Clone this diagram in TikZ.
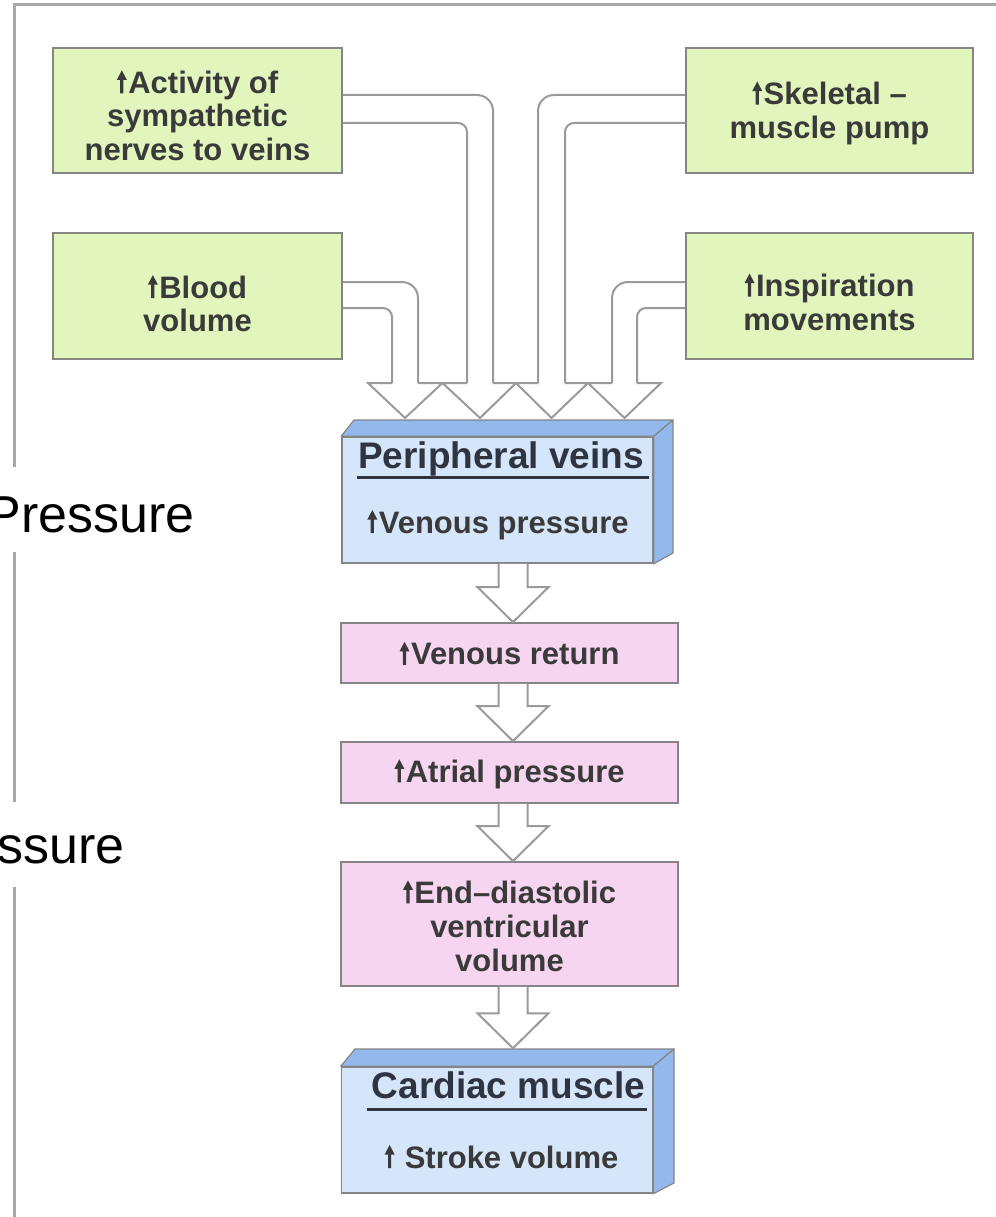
\documentclass[tikz,border=0pt]{standalone}
\usepackage{fontspec}
\setmainfont{Liberation Sans}
\usetikzlibrary{calc}
\definecolor{greenfill}{HTML}{E1F5BC}
\definecolor{pinkfill}{HTML}{F6D5F1}
\definecolor{bluefront}{HTML}{D5E5FA}
\definecolor{blueside}{HTML}{93B8EC}
\definecolor{boxline}{HTML}{858585}
\definecolor{pipecol}{HTML}{9A9A9A}
\definecolor{framecol}{HTML}{A8A8A8}
\definecolor{txt}{HTML}{3A3A3A}
\definecolor{titletxt}{HTML}{2F3540}
\newcommand{\upar}{\tikz[baseline=0pt,x=1pt,y=1pt]\fill[txt] (-1.6,0) -- (-1.6,13.5) -- (-5,13.5) -- (0,23) -- (5,13.5) -- (1.6,13.5) -- (1.6,0) -- cycle;\hspace{1.5pt}}
\newcommand{\blockarrow}[2]{%
  \draw[pipe,fill=white] ($(#1)+(-14.5,0)$) -- ($(#2)+(-14.5,-35)$) -- ($(#2)+(-35.5,-35)$) -- (#2)
    -- ($(#2)+(35.5,-35)$) -- ($(#2)+(14.5,-35)$) -- ($(#1)+(14.5,0)$);}
\begin{document}
\begin{tikzpicture}[x=1pt,y=-1pt,
  gbox/.style={draw=boxline,line width=2pt,fill=greenfill,minimum width=289pt,inner sep=0pt},
  pbox/.style={draw=boxline,line width=1.8pt,fill=pinkfill,minimum width=337pt,inner sep=0pt},
  bfront/.style={draw=boxline,line width=1.5pt,fill=bluefront,minimum width=311pt,minimum height=126pt,inner sep=0pt},
  bside/.style={draw=boxline,line width=1.2pt,fill=blueside,line join=round},
  btext/.style={inner sep=0pt,align=center,text=txt,font=\bfseries\fontsize{31}{33.5}\selectfont},
  ttext/.style={inner sep=0pt,anchor=base,text=titletxt,font=\bfseries\fontsize{37}{40}\selectfont},
  uline/.style={draw=titletxt,line width=3pt},
  pipe/.style={draw=pipecol,line width=2pt},
  frame/.style={draw=framecol,line width=3pt},
  side/.style={inner sep=0pt,anchor=base east,text=black,font=\fontsize{52}{60}\selectfont}
]
\useasboundingbox (0,0) rectangle (995,1217);
\fill[white] (0,0) rectangle (995,1217);

% frame
\draw[frame] (14,467) -- (14,5) -- (996,5);
\draw[frame] (14,552) -- (14,802);
\draw[frame] (14,887) -- (14,1218);
\node[side] (pr1) at (195,532) {Pressure};
\node[side] (pr2) at (125,863) {ssure};

% green boxes
\node[gbox,minimum height=125pt] (act) at (197.5,110.5) {};
\node[gbox,minimum height=126pt] (blood) at (197.5,296) {};
\node[gbox,minimum width=287pt,minimum height=125pt] (skel) at (829.5,110.5) {};
\node[gbox,minimum width=287pt,minimum height=126pt] (insp) at (829.5,296) {};
\node[btext] (actT) at (197.5,115.5) {\upar Activity of\\sympathetic\\nerves to veins};
\node[btext] (bloodT) at (197.5,303.5) {\upar Blood\\volume};
\node[btext] (skelT) at (829.5,113) {\upar Skeletal --\\muscle pump};
\node[btext] (inspT) at (829.5,302) {\upar Inspiration\\movements};

% pipes into peripheral veins
\draw[pipe,rounded corners=9pt] ([yshift=-12pt]blood.east) -| (392,383);
\draw[pipe,rounded corners=16pt] ([yshift=14pt]blood.east) -| (418,383);
\draw[pipe] (418,383) -- (442.5,383) -- (405,418) -- (368,383) -- (392,383);
\draw[pipe,rounded corners=9pt] ([yshift=-12.5pt]act.east) -| (467,383);
\draw[pipe,rounded corners=16pt] ([yshift=15.5pt]act.east) -| (493,383);
\draw[pipe] (493,383) -- (516,383) -- (480,418) -- (442.5,383) -- (467,383);
\draw[pipe,rounded corners=16pt] ([yshift=15.5pt]skel.west) -| (538,383);
\draw[pipe,rounded corners=9pt] ([yshift=-12.5pt]skel.west) -| (565,383);
\draw[pipe] (538,383) -- (516,383) -- (551.5,418) -- (588,383) -- (565,383);
\draw[pipe,rounded corners=16pt] ([yshift=14pt]insp.west) -| (612,383);
\draw[pipe,rounded corners=9pt] ([yshift=-12pt]insp.west) -| (637,383);
\draw[pipe] (612,383) -- (588,383) -- (624.5,418) -- (661,383) -- (637,383);

% peripheral veins block
\node[bfront] (pv) at (497.5,500) {};
\draw[bside] (pv.north west) -- (354,420) -- (673,420) -- (pv.north east) -- cycle;
\draw[bside] (pv.north east) -- (673,420) -- (673,553) -- (pv.south east) -- cycle;
\node[ttext] (pvT) at (501,468) {Peripheral veins};
\draw[uline] ($(pvT.base west)+(-1,9)$) -- ($(pvT.base east)+(5,9)$);
\node[btext,anchor=base] (pvS) at (498,533) {\upar Venous pressure};

% pink boxes
\node[pbox,minimum height=60pt] (vret) at (509.5,653) {};
\node[btext] (vretT) at (509.5,653.5) {\upar Venous return};
\node[pbox,minimum height=61pt] (atp) at (509.5,772.5) {};
\node[btext] (atpT) at (509.5,774) {\upar Atrial pressure};
\node[pbox,minimum height=124pt] (edv) at (509.5,924) {};
\node[btext,font=\bfseries\fontsize{31}{34}\selectfont] (edvT) at (509.5,926) {\upar End--diastolic\\ventricular\\volume};

% cardiac muscle block
\node[bfront] (cm) at (497,1130) {};
\draw[bside] (cm.north west) -- (355,1049) -- (674,1049) -- (cm.north east) -- cycle;
\draw[bside] (cm.north east) -- (674,1049) -- (674,1183) -- (cm.south east) -- cycle;
\node[ttext] (cmT) at (508.5,1098) {Cardiac muscle};
\draw[uline] ($(cmT.base west)+(-5,11)$) -- ($(cmT.base east)+(2,11)$);
\node[btext,anchor=base] (cmS) at (501.5,1168) {\upar\ Stroke volume};

% block arrows down the chain
\coordinate (ax) at (513,0);
\coordinate (s1) at (pv.south -| ax);
\coordinate (t1) at (vret.north -| ax);
\coordinate (s2) at (vret.south -| ax);
\coordinate (t2) at (atp.north -| ax);
\coordinate (s3) at (atp.south -| ax);
\coordinate (t3) at (edv.north -| ax);
\coordinate (s4) at (edv.south -| ax);
\coordinate (t4) at ($(cm.north -| ax)+(0,-18)$);
\blockarrow{s1}{t1}
\blockarrow{s2}{t2}
\blockarrow{s3}{t3}
\blockarrow{s4}{t4}
\end{tikzpicture}
\end{document}
